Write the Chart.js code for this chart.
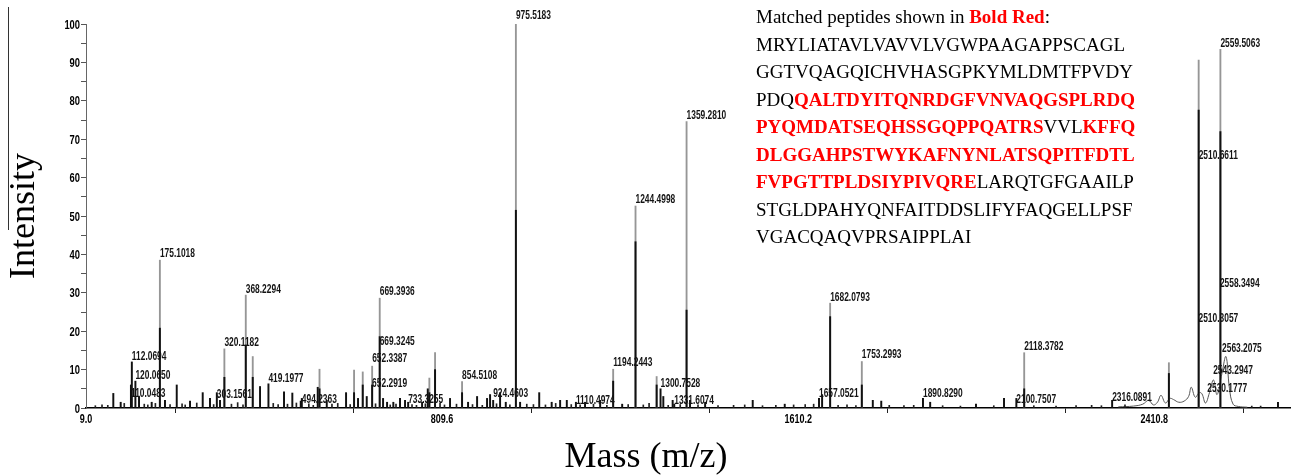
<!DOCTYPE html>
<html>
<head>
<meta charset="utf-8">
<script src="https://cdn.jsdelivr.net/npm/chart.js@4.4.1/dist/chart.umd.min.js"></script>
<style>
  html, body { margin: 0; padding: 0; background: #fff; }
  #wrap { position: relative; width: 1297px; height: 476px; overflow: hidden; }
  #seq {
    position: absolute; left: 756px; top: 3px;
    font-family: 'Liberation Serif', 'Times New Roman', serif;
    font-size: 19px; line-height: 27.5px; color: #000; white-space: nowrap;
  }
  #seq .r { color: #ff0000; font-weight: bold; }
</style>
</head>
<body>
<div id="wrap">
  <canvas id="c" width="1297" height="476"></canvas>
  <div id="seq">
    <div>Matched peptides shown in <span class="r">Bold Red</span>:</div>
    <div>MRYLIATAVLVAVVLVGWPAAGAPPSCAGL</div>
    <div>GGTVQAGQICHVHASGPKYMLDMTFPVDY</div>
    <div>PDQ<span class="r">QALTDYITQNRDGFVNVAQGSPLRDQ</span></div>
    <div><span class="r">PYQMDATSEQHSSGQPPQATRS</span>VVL<span class="r">KFFQ</span></div>
    <div><span class="r">DLGGAHPSTWYKAFNYNLATSQPITFDTL</span></div>
    <div><span class="r">FVPGTTPLDSIYPIVQRE</span>LARQTGFGAAILP</div>
    <div>STGLDPAHYQNFAITDDSLIFYFAQGELLPSF</div>
    <div>VGACQAQVPRSAIPPLAI</div>
  </div>
</div>
<script>
// ---- data ----
// x-axis tick labels (m/z) and y-axis tick labels (%)
const xTickLabels = [9.0, 809.6, 1610.2, 2410.8];
const yTickLabels = [0, 10, 20, 30, 40, 50, 60, 70, 80, 90, 100];

// black trace: centroid peaks (m/z, relative intensity %)
const blackMass = [70.4, 87, 110.0483, 112.0694, 120.065, 128.2, 156.7, 175.1018, 186.6, 213, 242.9, 271.4, 287.8,
  303.1561, 310.3, 320.1182, 368.2294, 383.9, 400.3, 419.1977, 454.2, 472.9, 491.8, 494.2363, 530, 534, 550.3,
  593.7, 611.7, 620.6, 631.2, 640.2, 652.3387, 669.3245, 676.9, 685.9, 700, 715, 726.3, 733.3255, 764.6, 777.4, 781,
  793.8, 827.5, 854.5108, 868, 888.3, 910.7, 917.5, 924.4603, 940, 952.8, 975.5183, 985, 1028, 1056, 1075, 1090,
  1110.4974, 1131, 1165, 1194.2443, 1214.5, 1244.4998, 1292, 1300.7528, 1307, 1328, 1331.6074, 1359.281, 1367, 1401,
  1508, 1580, 1657.0521, 1664, 1682.0793, 1753.2993, 1778, 1797, 1890.829, 1907, 2010, 2073, 2100.7507, 2118.3782,
  2316.0891, 2443.7, 2510.6611, 2559.5063, 2689];
const blackIntensity = [3.8, 1.5, 6.0, 12.0, 7.0, 3.0, 1.5, 20.8, 2.0, 6.0, 1.8, 4.0, 2.5,
  4.0, 2.0, 8.0, 16.4, 8.0, 5.6, 6.3, 4.2, 3.9, 1.8, 2.5, 5.4, 5.0, 2.0,
  4.0, 4.0, 2.5, 6.0, 3.0, 6.0, 18.6, 2.5, 1.5, 1.5, 2.5, 2.0, 1.5, 1.5, 5.0, 4.0,
  10.0, 2.5, 4.0, 1.5, 3.0, 2.5, 3.5, 2.0, 4.0, 1.5, 51.5, 1.5, 4.0, 1.5, 2.0, 2.0,
  1.5, 1.5, 2.0, 7.0, 1.0, 43.3, 6.0, 5.0, 3.0, 2.0, 1.0, 25.5, 2.0, 1.5,
  2.0, 1.0, 2.5, 3.5, 23.8, 6.0, 2.0, 1.8, 2.5, 1.5, 1.0, 2.5, 2.5, 5.0,
  2.0, 9.0, 77.6, 72.0, 1.5];

// small baseline peaks (noise) along the spectrum
const noiseMass = [30, 45, 58, 95, 140, 148, 165, 198, 225, 232, 258, 296, 336, 350, 362, 430, 441, 462, 482, 510,
  520, 562, 575, 603, 660, 693, 706, 742, 752, 772, 805, 815, 842, 878, 900, 932, 962, 1000, 1015, 1042, 1065, 1100,
  1120, 1150, 1180, 1228, 1262, 1275, 1318, 1345, 1385, 1430, 1465, 1490, 1530, 1560, 1600, 1626, 1645, 1700, 1720,
  1740, 1815, 1848, 1870, 1935, 1975, 2050, 2140, 2190, 2235, 2270, 2292, 2345, 2630, 2650];
const noiseIntensity = [0.6, 0.8, 0.7, 1.2, 1.0, 0.8, 1.2, 0.9, 1.1, 0.8, 1.3, 0.9, 1.0, 1.4, 0.8, 1.2, 0.9, 1.0, 1.3, 1.1,
  0.7, 1.0, 1.2, 0.9, 1.1, 0.8, 1.0, 0.9, 0.7, 1.1, 1.2, 0.8, 1.0, 0.9, 0.7, 1.1, 0.8, 1.0, 0.9, 0.8, 1.2, 0.9,
  0.8, 1.0, 0.7, 0.9, 0.8, 1.2, 0.7, 0.9, 0.8, 0.6, 0.7, 0.8, 0.6, 0.7, 0.8, 0.9, 1.0, 0.7, 0.8,
  0.6, 0.7, 0.6, 0.7, 0.6, 0.5, 0.6, 0.6, 0.5, 0.6, 0.7, 0.6, 0.8, 0.5, 0.5];

// grey trace: overlaid spectrum, tallest peaks
const greyMass = [175.1018, 320.1182, 368.2294, 383.9, 534, 611.7, 631.2, 652.3387, 669.3936, 781, 793.8,
  854.5108, 975.5183, 1194.2443, 1244.4998, 1292, 1359.281, 1682.0793, 1753.2993, 2118.3782, 2443.7,
  2510.6611, 2559.5063];
const greyIntensity = [38.5, 15.4, 29.4, 13.4, 10.1, 9.9, 9.4, 10.9, 28.6, 7.8, 14.4,
  6.9, 100, 10.1, 52.6, 8.2, 74.6, 27.3, 12.1, 14.4, 11.8,
  90.6, 93.4];

// grey profile humps around the high-mass cluster
const profileMass = [2330, 2364, 2385, 2398, 2409, 2418, 2426, 2436, 2446, 2454, 2466, 2478, 2488, 2494, 2503,
  2512, 2518, 2526, 2535, 2544, 2552, 2563, 2572, 2580, 2588, 2600, 2620];
const profileIntensity = [0.3, 0.5, 1.0, 2.0, 0.8, 1.5, 3.3, 1.3, 2.5, 2.2, 1.5, 1.8, 3.0, 5.4, 2.8,
  4.0, 3.7, 1.3, 4.0, 7.3, 3.5, 9.0, 13.4, 5.0, 1.0, 0.4, 0.2];

// peak annotations: text and the intensity level of the label baseline
const peakLabels = ["175.1018", "112.0694", "120.0650", "110.0483", "368.2294", "320.1182", "303.1561",
  "419.1977", "494.2363", "669.3936", "669.3245", "652.3387", "652.2919", "733.3255", "854.5108", "924.4603",
  "975.5183", "1110.4974", "1194.2443", "1244.4998", "1300.7528", "1331.6074", "1359.2810", "1657.0521",
  "1682.0793", "1753.2993", "1890.8290", "2100.7507", "2118.3782", "2316.0891", "2559.5063", "2510.6611",
  "2558.3494", "2510.3057", "2563.2075", "2543.2947", "2530.1777"];
const peakLabelLevel = [39.3, 12.5, 7.5, 2.9, 29.9, 16.1, 2.5,
  6.9, 1.3, 29.4, 16.4, 11.9, 5.4, 1.4, 7.5, 2.9,
  101.2, 1.0, 10.9, 53.3, 5.4, 1.0, 75.3, 2.9,
  27.9, 12.9, 2.9, 1.4, 15.1, 1.9, 93.9, 64.8,
  31.4, 22.5, 14.7, 8.9, 4.2];

// ---- chart ----
const SANS = "'Liberation Sans', Arial, sans-serif";
const xTicksAll = [];
for (let i = 0; i < xTickLabels.length; i++) {
  xTicksAll.push(xTickLabels[i]);
  if (i < xTickLabels.length - 1) xTicksAll.push((xTickLabels[i] + xTickLabels[i + 1]) / 2);
}

// condensed text (the original uses a narrow bold face)
function narrowText(ctx, text, x, y, sx) {
  ctx.save();
  ctx.translate(x, y);
  ctx.scale(sx, 1);
  ctx.fillText(text, 0, 0);
  ctx.restore();
}

const annotate = {
  id: 'annotate',
  afterDatasetsDraw(chart) {
    const ctx = chart.ctx, xs = chart.scales.x, ys = chart.scales.y;
    ctx.save();
    ctx.fillStyle = '#141414';
    ctx.font = "bold 12px " + SANS;
    ctx.textAlign = 'left';
    ctx.textBaseline = 'alphabetic';
    for (let i = 0; i < peakLabels.length; i++) {
      const x = xs.getPixelForValue(parseFloat(peakLabels[i]));
      const y = ys.getPixelForValue(peakLabelLevel[i]);
      narrowText(ctx, peakLabels[i], x, y, 0.7);
    }
    ctx.restore();
  },
  afterDraw(chart) {
    const ctx = chart.ctx, a = chart.chartArea, xs = chart.scales.x, ys = chart.scales.y;
    // tick labels
    ctx.save();
    ctx.fillStyle = '#000';
    ctx.font = "bold 12px " + SANS;
    ctx.textBaseline = 'alphabetic';
    ctx.textAlign = 'center';
    xTickLabels.forEach(v => narrowText(ctx, v.toFixed(1), xs.getPixelForValue(v), a.bottom + 15, 0.75));
    ctx.textAlign = 'right';
    yTickLabels.forEach(v => narrowText(ctx, String(v), a.left - 6, ys.getPixelForValue(v) + 4.5, 0.78));
    ctx.restore();
    // axis titles
    ctx.save();
    ctx.fillStyle = '#000';
    ctx.font = "36px 'Liberation Serif', 'Times New Roman', serif";
    ctx.textAlign = 'center';
    ctx.textBaseline = 'alphabetic';
    ctx.fillText('Mass (m/z)', a.left + 560, a.bottom + 59);
    ctx.translate(34, (a.top + a.bottom) / 2);
    ctx.rotate(-Math.PI / 2);
    ctx.fillText('Intensity', 0, 0);
    ctx.restore();
    ctx.save();
    ctx.strokeStyle = '#333';
    ctx.lineWidth = 1;
    ctx.beginPath();
    ctx.moveTo(8.5, 7);
    ctx.lineTo(8.5, 230);
    ctx.stroke();
    ctx.restore();
  }
};

new Chart(document.getElementById('c'), {
  type: 'bar',
  data: {
    datasets: [
      {
        label: 'black', order: 1,
        data: blackMass.map((m, i) => ({ x: m, y: blackIntensity[i] })),
        backgroundColor: '#111', barThickness: 1.3, grouped: false
      },
      {
        label: 'noise', order: 1,
        data: noiseMass.map((m, i) => ({ x: m, y: noiseIntensity[i] })),
        backgroundColor: '#222', barThickness: 1, grouped: false
      },
      {
        label: 'grey', order: 2,
        data: greyMass.map((m, i) => ({ x: m, y: greyIntensity[i] })),
        backgroundColor: '#969696', barThickness: 1.2, grouped: false
      },
      {
        type: 'line', label: 'profile', order: 3,
        data: profileMass.map((m, i) => ({ x: m, y: profileIntensity[i] })),
        borderColor: '#555', borderWidth: 1, pointRadius: 0, tension: 0.4, fill: false
      }
    ]
  },
  options: {
    responsive: false,
    devicePixelRatio: 1,
    animation: false,
    layout: { padding: { top: 24, right: 7, left: 0, bottom: 0 } },
    plugins: { legend: { display: false }, tooltip: { enabled: false } },
    scales: {
      x: {
        type: 'linear', min: 9, max: 2716, offset: false,
        afterBuildTicks(scale) { scale.ticks = xTicksAll.map(v => ({ value: v })); },
        afterFit(scale) { scale.height = 68; },
        ticks: { autoSkip: false, maxRotation: 0, display: true, callback() { return ''; } },
        grid: { drawOnChartArea: false, drawTicks: true, tickLength: 5, color: '#222' },
        border: { display: true, color: '#000', width: 1.5 }
      },
      y: {
        min: 0, max: 100,
        afterFit(scale) { scale.width = 86; },
        ticks: { stepSize: 5, callback() { return ''; } },
        grid: { drawOnChartArea: false, drawTicks: true, tickLength: 5, color: '#555' },
        border: { display: true, color: '#666', width: 1 }
      }
    }
  },
  plugins: [annotate]
});
</script>
</body>
</html>
